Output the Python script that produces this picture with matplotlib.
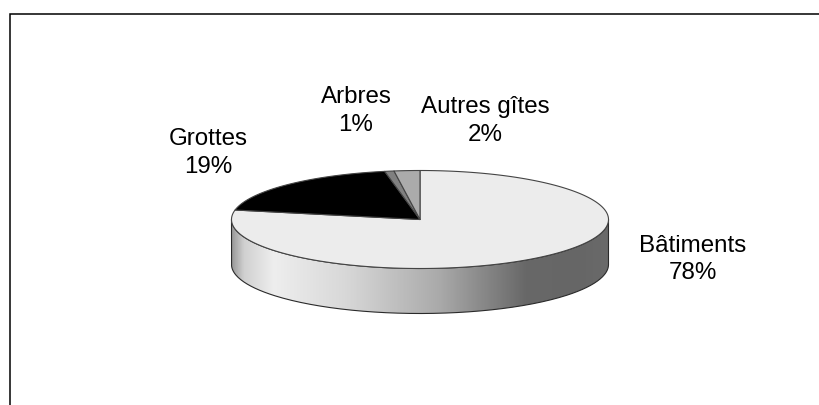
import numpy as np
from matplotlib import pyplot as plt
from matplotlib.colors import LinearSegmentedColormap
from matplotlib.patches import Polygon, PathPatch
from matplotlib.path import Path

labels = ['Bâtiments', 'Grottes', 'Arbres', 'Autres gîtes']
values = [78.1, 18.9, 0.8, 2.2]
colors = ['#ececec', '#000000', '#808080', '#ababab']

# pie geometry, in pixels of the picture
cx, cy = 420, 219.5
rx, ry = 188.5, 49
depth = 45

label_pos = [(693, 259.5), (208, 153), (356, 111), (485, 121)]

plt.rcParams['font.family'] = ['Liberation Sans', 'DejaVu Sans']

fig = plt.figure(figsize=(8.19, 4.05), dpi=100)
ax = fig.add_axes([0, 0, 1, 1])
ax.set_xlim(0, 819)
ax.set_ylim(405, 0)
ax.axis('off')

# frame, open on the right and at the bottom
ax.plot([10, 10, 819], [405, 13.5, 13.5], color='black', lw=1.1, solid_joinstyle='miter')

# side wall of the disc
t = np.linspace(0, np.pi, 200)
x = cx + rx * np.cos(t)
y = cy + ry * np.sin(t)
side = np.column_stack([np.r_[x, x[::-1]], np.r_[y, y[::-1] + depth]])
side_path = Path(np.vstack([side, side[0]]))
shade = LinearSegmentedColormap.from_list('side', [
    (0.0, '#9c9c9c'), (0.03, '#d0d0d0'), (0.11, '#eeeeee'), (0.3, '#d8d8d8'),
    (0.55, '#aaaaaa'), (0.78, '#686868'), (0.92, '#666666'), (1.0, '#6a6a6a')])
im = ax.imshow(np.linspace(0, 1, 256)[None, :], cmap=shade, vmin=0, vmax=1, aspect='auto',
               extent=[cx - rx, cx + rx, cy + ry + depth, cy], zorder=2)
outline = PathPatch(side_path, facecolor='none', edgecolor='#2a2a2a', lw=0.8, zorder=3)
ax.add_patch(outline)
im.set_clip_path(outline)
ax.set_xlim(0, 819)
ax.set_ylim(405, 0)

# slices, clockwise from the top
start = 90.0
for value, color in zip(values, colors):
    sweep = value / sum(values) * 360
    a = np.radians(np.linspace(start, start - sweep, max(int(sweep) * 2, 4)))
    pts = np.column_stack([cx + rx * np.cos(a), cy - ry * np.sin(a)])
    pts = np.vstack([[cx, cy], pts])
    ax.add_patch(Polygon(pts, closed=True, facecolor=color, edgecolor='#444444', lw=0.8,
                         joinstyle='round', zorder=4))
    start -= sweep

for label, value, (lx, ly) in zip(labels, values, label_pos):
    ax.text(lx, ly, f'{label}\n{value:.0f}%', ha='center', va='center', fontsize=17.4,
            color='black', linespacing=1.3, zorder=5)

fig.savefig('out.png', dpi=100, facecolor='white')
